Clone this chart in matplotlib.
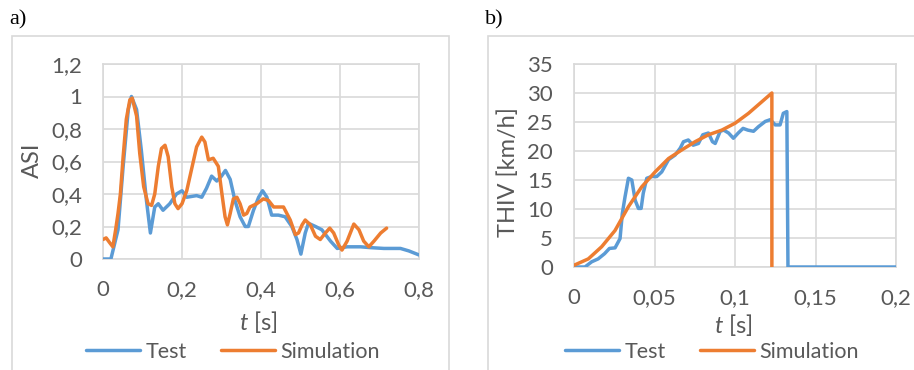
import matplotlib
matplotlib.use("Agg")
import matplotlib.pyplot as plt
from matplotlib.patches import Rectangle

plt.rcParams['font.family'] = ['Lato', 'DejaVu Sans']
plt.rcParams['mathtext.fontset'] = 'custom'
plt.rcParams['mathtext.it'] = 'Lato:italic'
plt.rcParams['mathtext.rm'] = 'Lato'

# a) ASI
asi_test_t = [0, 0.02, 0.038, 0.051, 0.064, 0.072, 0.085, 0.097, 0.110, 0.120, 0.131, 0.140,
              0.152, 0.169, 0.186, 0.200, 0.212, 0.237, 0.250, 0.262, 0.275, 0.288, 0.300,
              0.310, 0.322, 0.334, 0.347, 0.360, 0.368, 0.381, 0.394, 0.404, 0.415, 0.427,
              0.444, 0.461, 0.478, 0.491, 0.501, 0.512, 0.520, 0.538, 0.554, 0.576, 0.593,
              0.618, 0.652, 0.677, 0.711, 0.753, 0.774, 0.800]
asi_test = [0, 0, 0.18, 0.57, 0.92, 1.0, 0.92, 0.67, 0.36, 0.16, 0.32, 0.34,
            0.30, 0.34, 0.40, 0.42, 0.38, 0.39, 0.38, 0.435, 0.51, 0.48, 0.51,
            0.545, 0.49, 0.36, 0.26, 0.20, 0.20, 0.30, 0.38, 0.42, 0.38, 0.27,
            0.27, 0.26, 0.20, 0.12, 0.03, 0.16, 0.22, 0.20, 0.18, 0.11, 0.065,
            0.075, 0.075, 0.07, 0.065, 0.065, 0.05, 0.025]
asi_sim_t = [0, 0.008, 0.017, 0.025, 0.032, 0.038, 0.044, 0.051, 0.059, 0.068, 0.074, 0.085,
             0.093, 0.103, 0.114, 0.123, 0.131, 0.140, 0.148, 0.157, 0.165, 0.174, 0.182,
             0.190, 0.200, 0.212, 0.224, 0.237, 0.250, 0.258, 0.267, 0.279, 0.292, 0.300,
             0.309, 0.315, 0.322, 0.330, 0.339, 0.347, 0.356, 0.364, 0.372, 0.389, 0.406,
             0.419, 0.432, 0.457, 0.474, 0.487, 0.495, 0.504, 0.512, 0.525, 0.538, 0.550,
             0.563, 0.574, 0.584, 0.597, 0.605, 0.618, 0.635, 0.648, 0.660, 0.673, 0.686,
             0.703, 0.718]
asi_sim = [0.12, 0.13, 0.10, 0.075, 0.18, 0.28, 0.40, 0.63, 0.86, 0.98, 0.99, 0.88,
           0.65, 0.445, 0.34, 0.33, 0.40, 0.57, 0.68, 0.70, 0.63, 0.445, 0.34,
           0.31, 0.34, 0.42, 0.55, 0.69, 0.75, 0.72, 0.61, 0.62, 0.57, 0.42,
           0.26, 0.21, 0.28, 0.37, 0.38, 0.34, 0.27, 0.28, 0.32, 0.34, 0.37,
           0.36, 0.32, 0.32, 0.24, 0.15, 0.16, 0.21, 0.24, 0.21, 0.14, 0.12,
           0.16, 0.19, 0.16, 0.085, 0.055, 0.11, 0.215, 0.18, 0.11, 0.075, 0.11,
           0.16, 0.19]

# b) THIV
thiv_test_t = [0, 0.0068, 0.011, 0.015, 0.019, 0.022, 0.0255, 0.0286, 0.030, 0.0317, 0.0338,
               0.0359, 0.038, 0.040, 0.0417, 0.043, 0.0452, 0.0483, 0.0514, 0.0545, 0.0587,
               0.0628, 0.066, 0.068, 0.071, 0.074, 0.0773, 0.080, 0.0835, 0.086, 0.0877,
               0.0908, 0.093, 0.096, 0.099, 0.102, 0.105, 0.108, 0.1115, 0.1146, 0.1188,
               0.1219, 0.125, 0.128, 0.130, 0.1322, 0.1329, 0.2]
thiv_test = [0, 0, 0.9, 1.4, 2.3, 3.2, 3.3, 4.9, 9.2, 12.1, 15.3,
             15.0, 11.5, 10.1, 10.1, 12.7, 15.3, 15.6, 15.6, 16.4, 18.5,
             19.3, 20.5, 21.6, 21.9, 21.0, 21.3, 22.8, 23.1, 21.6, 21.3,
             23.4, 23.6, 23.1, 22.2, 23.1, 23.9, 23.6, 23.4, 24.2, 25.1,
             25.4, 24.5, 24.5, 26.5, 26.8, 0, 0]
thiv_sim_t = [0, 0.0089, 0.0172, 0.0255, 0.0338, 0.042, 0.0504, 0.0587, 0.067, 0.0752,
              0.0835, 0.0918, 0.1001, 0.1084, 0.1167, 0.1229, 0.12291]
thiv_sim = [0.3, 1.4, 3.5, 6.3, 10.4, 13.8, 16.4, 18.7, 20.2, 21.6,
            22.8, 23.6, 24.8, 26.5, 28.5, 30.0, 0]

blue = '#5B9BD5'
orange = '#ED7D31'
grey = '#595959'
gridc = '#D9D9D9'

fig = plt.figure(figsize=(9.14, 3.7), dpi=100)

# outer chart frames
fig.patches.append(Rectangle((12 / 914, -0.01), 437 / 914, 1 - 36 / 370 + 0.01,
                             transform=fig.transFigure, fill=False, ec=gridc, lw=1.2))
fig.patches.append(Rectangle((488 / 914, -0.01), 430 / 914, 1 - 36 / 370 + 0.01,
                             transform=fig.transFigure, fill=False, ec=gridc, lw=1.2))

ax1 = fig.add_axes([103 / 914, 111 / 370, 316 / 914, 195 / 370])
ax2 = fig.add_axes([574 / 914, 103 / 370, 322 / 914, 203 / 370])

style = dict(lw=2.5, solid_joinstyle='round', solid_capstyle='round')
l1, = ax1.plot(asi_test_t, asi_test, color=blue, label='Test', zorder=3, **style)
l2, = ax1.plot(asi_sim_t, asi_sim, color=orange, label='Simulation', zorder=4, **style)
ax1.set_xlim(0, 0.8)
ax1.set_ylim(0, 1.2)
ax1.set_xticks([0, 0.2, 0.4, 0.6, 0.8])
ax1.set_xticklabels(['0', '0,2', '0,4', '0,6', '0,8'])
ax1.set_yticks([0, 0.2, 0.4, 0.6, 0.8, 1.0, 1.2])
ax1.set_yticklabels(['0', '0,2', '0,4', '0,6', '0,8', '1', '1,2'])

ax2.plot(thiv_test_t, thiv_test, color=blue, label='Test', zorder=3, **style)
ax2.plot(thiv_sim_t, thiv_sim, color=orange, label='Simulation', zorder=4, **style)
ax2.set_xlim(0, 0.2)
ax2.set_ylim(0, 35)
ax2.set_xticks([0, 0.05, 0.1, 0.15, 0.2])
ax2.set_xticklabels(['0', '0,05', '0,1', '0,15', '0,2'])
ax2.set_yticks(range(0, 36, 5))

for ax in (ax1, ax2):
    ax.grid(True, color=gridc, lw=1.2, zorder=0)
    for s in ax.spines.values():
        s.set_color(gridc)
        s.set_linewidth(1.2)
    ax.tick_params(length=0, labelsize=16, labelcolor=grey, pad=15)
    for lab in ax.get_xticklabels() + ax.get_yticklabels():
        lab.set_clip_on(False)
    ax.set_axisbelow(True)

fig.text(258 / 914, 1 - 322 / 370, '$t$ [s]', ha='center', va='center', fontsize=17, color=grey)
fig.text(733 / 914, 1 - 325 / 370, '$t$ [s]', ha='center', va='center', fontsize=17, color=grey)
fig.text(32 / 914, 1 - 160 / 370, 'ASI', ha='center', va='center', rotation=90, fontsize=17, color=grey)
fig.text(508 / 914, 1 - 172 / 370, 'THIV [km/h]', ha='center', va='center', rotation=90,
         fontsize=17, color=grey)

fig.text(9 / 914, 1 - 20 / 370, 'a)', ha='left', va='center', fontsize=16,
         family='Liberation Serif', color='black')
fig.text(485 / 914, 1 - 20 / 370, 'b)', ha='left', va='center', fontsize=16,
         family='Liberation Serif', color='black')

for cx in (233, 712):
    leg = fig.legend(handles=[l1, l2], loc='center', bbox_to_anchor=(cx / 914, 1 - 352 / 370),
                     ncol=2, frameon=False, fontsize=15.5, handlelength=2.5, columnspacing=1.6,
                     handletextpad=0.25, borderaxespad=0)
    for t in leg.get_texts():
        t.set_color(grey)

fig.savefig('out.png', dpi=100)
